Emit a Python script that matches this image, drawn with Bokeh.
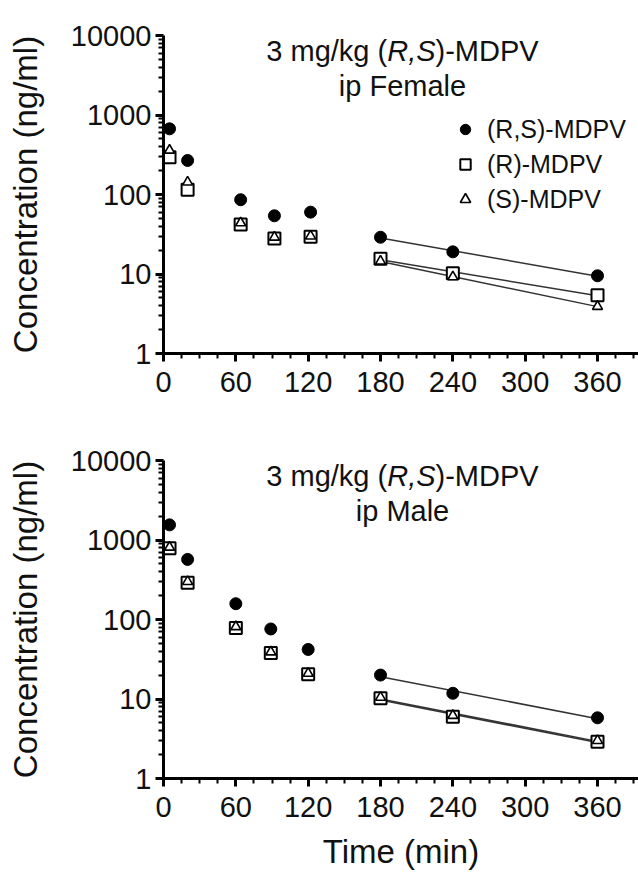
import numpy as np
from bokeh.plotting import figure
from bokeh.layouts import column
from bokeh.core.properties import value
from bokeh.models import (Range1d, FixedTicker, PrintfTickFormatter, Label,
                          Legend, LegendItem)
from bokeh.embed import file_html
from bokeh.resources import INLINE

# ---------------- data ----------------
time_female = [5, 20, 64, 92, 122, 180, 240, 360]
rs_female = [670, 268, 86, 54, 60, 29, 19, 9.5]
r_female = [294, 115, 42, 28, 29.5, 15.5, 10.2, 5.4]
s_female = [360, 143, 44, 29, 30, 14.5, 9.2, 3.9]

time_male = [5, 20, 60, 89, 120, 180, 240, 360]
rs_male = [1550, 570, 158, 76, 42, 20, 11.8, 5.8]
r_male = [790, 290, 78, 38, 20.5, 10.2, 6.0, 2.9]
s_male = [810, 300, 81, 39, 21, 10.5, 6.2, 3.0]

x_ticks = [0, 60, 120, 180, 240, 300, 360]
x_minor = list(range(0, 400, 15))
y_ticks = [1, 10, 100, 1000, 10000]
y_minor = [k * 10 ** d for d in range(4) for k in range(2, 10)]

series_names = ["(R,S)-MDPV", "(R)-MDPV", "(S)-MDPV"]
title_line1 = [("3 mg/kg (", "normal"), ("R,S", "italic"), (")-MDPV", "normal")]
title_line2 = {"female": "ip Female", "male": "ip Male"}

FONT = "Liberation Sans"
ADV = {' ': .278, '3': .556, 'm': .833, 'g': .556, '/': .278, 'k': .5, '(': .333,
       ')': .333, '-': .333, 'M': .833, 'D': .722, 'P': .667, 'V': .667,
       'R': .722, ',': .278, 'S': .667}

X_END = 394
FW, FH = 475, 318


def text_w(s, size):
    return sum(ADV.get(ch, .556) for ch in s) * size


def px_to_x(px):
    return px / FW * X_END


def px_to_y(py):
    return 10 ** (py / FH * 4)


def make_panel(times, rs, r, s, line2, bottom, legend, use_segments, use_text_glyph):
    p = figure(output_backend="svg", toolbar_location=None,
               y_axis_type="log", x_range=Range1d(0, X_END),
               y_range=Range1d(1, 10000),
               frame_width=FW, frame_height=FH,
               min_border_left=163, min_border_right=0, min_border_top=35,
               min_border_bottom=99 if bottom else 72)
    p.outline_line_color = None
    p.grid.visible = False

    p.xaxis.ticker = FixedTicker(ticks=x_ticks, minor_ticks=x_minor)
    p.yaxis.ticker = FixedTicker(ticks=y_ticks, minor_ticks=y_minor)
    p.yaxis.formatter = PrintfTickFormatter(format="%d")

    for ax in (p.xaxis[0], p.yaxis[0]):
        ax.axis_line_width = 3
        ax.major_tick_line_width = 3
        ax.minor_tick_line_width = 2
        ax.major_tick_in = 0
        ax.minor_tick_in = 0
        ax.major_tick_out = 8
        ax.minor_tick_out = 5
        ax.major_label_text_font = FONT
        ax.major_label_text_font_size = "29px"
        ax.major_label_text_color = "#111111"
        ax.axis_label_text_font = FONT
        ax.axis_label_text_font_style = "normal"
        ax.axis_label_text_font_size = "33px"
        ax.axis_label_text_color = "#111111"

    p.xaxis.major_label_standoff = 10
    p.yaxis.major_label_standoff = 4
    p.yaxis.axis_label = "Concentration (ng/ml)"
    p.yaxis.axis_label_standoff = 24
    if bottom:
        p.xaxis.axis_label = "Time (min)"
        p.xaxis.axis_label_standoff = 13

    # terminal-phase log-linear fits (last three points)
    t_arr = np.array(times, dtype=float)
    for conc in (rs, r, s):
        c_arr = np.array(conc, dtype=float)
        tt = t_arr[-3:]
        slope, icpt = np.polyfit(tt, np.log10(c_arr[-3:]), 1)
        xs = [float(tt[0]), float(tt[-1])]
        ys = [float(10 ** (slope * x + icpt)) for x in xs]
        if use_segments:
            p.segment(x0=[xs[0]], y0=[ys[0]], x1=[xs[1]], y1=[ys[1]],
                      line_color="#333333", line_width=1.5)
        else:
            p.line(xs, ys, line_color="#333333", line_width=1.5)

    r_sq = p.scatter(times, r, marker="square", size=12, fill_color="white",
                     line_color="black", line_width=2)
    r_tr = p.scatter(times, s, marker="triangle", size=10, fill_color="white",
                     line_color="black", line_width=1.6)
    r_ci = p.scatter(times, rs, marker="circle", size=12, fill_color="black",
                     line_color="black")

    # title text
    size = 29
    cx = 239
    total = sum(text_w(t, size) for t, _ in title_line1)
    x0 = cx - total / 2
    y1 = 303
    y2 = 268
    for txt, style in title_line1:
        if use_text_glyph:
            p.text(x=[px_to_x(x0)], y=[px_to_y(y1)], text=[txt],
                   text_font=value(FONT), text_font_size=f"{size}px",
                   text_font_style=style, text_align="left",
                   text_baseline="alphabetic", text_color="#111111")
        else:
            p.add_layout(Label(x=x0, y=y1, x_units="screen", y_units="screen",
                               text=txt, text_font=FONT,
                               text_font_size=f"{size}px",
                               text_font_style=style, text_align="left",
                               text_baseline="alphabetic", text_color="#111111"))
        x0 += text_w(txt, size)
    if use_text_glyph:
        p.text(x=[px_to_x(cx)], y=[px_to_y(y2)], text=[line2],
               text_font=value(FONT), text_font_size=f"{size}px",
               text_align="center", text_baseline="alphabetic",
               text_color="#111111")
    else:
        p.add_layout(Label(x=cx, y=y2, x_units="screen", y_units="screen",
                           text=line2, text_font=FONT, text_font_size=f"{size}px",
                           text_align="center", text_baseline="alphabetic",
                           text_color="#111111"))

    if legend:
        lg = Legend(items=[LegendItem(label=series_names[0], renderers=[r_ci]),
                           LegendItem(label=series_names[1], renderers=[r_sq]),
                           LegendItem(label=series_names[2], renderers=[r_tr])],
                    location=(289, 139), padding=0, margin=0, spacing=5,
                    glyph_width=26, glyph_height=30, label_height=30,
                    label_standoff=9, border_line_color=None,
                    background_fill_alpha=0,
                    label_text_font=FONT, label_text_font_size="25px",
                    label_text_color="#111111")
        p.add_layout(lg)
    return p


p1 = make_panel(time_female, rs_female, r_female, s_female,
                title_line2["female"], bottom=False, legend=True,
                use_segments=True, use_text_glyph=False)
p2 = make_panel(time_male, rs_male, r_male, s_male,
                title_line2["male"], bottom=True, legend=False,
                use_segments=False, use_text_glyph=True)

layout = column(p1, p2, spacing=0)
open("out.html", "w").write(file_html(layout, INLINE))
